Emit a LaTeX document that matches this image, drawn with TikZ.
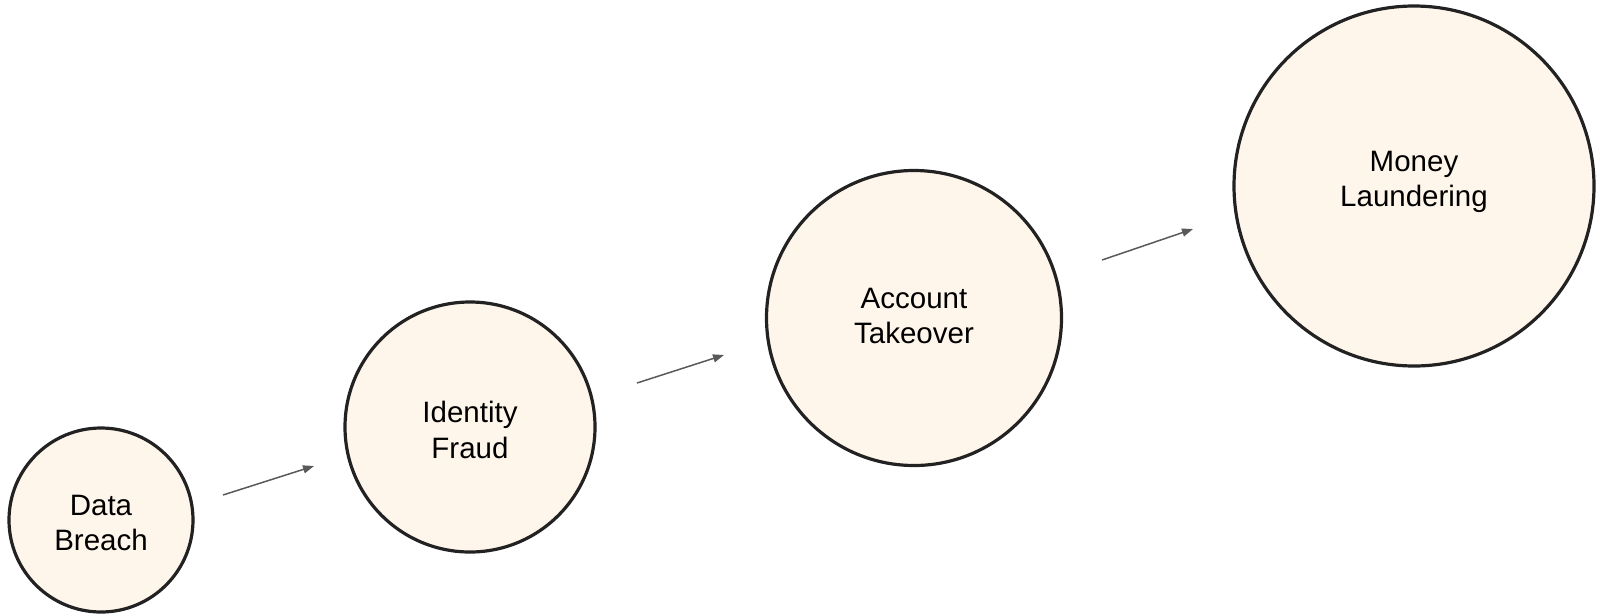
\documentclass[tikz,border=0pt]{standalone}
\usepackage{fontspec}
\setmainfont{Liberation Sans}
\usetikzlibrary{arrows.meta}
\definecolor{cfill}{HTML}{FFF6EB}
\definecolor{cline}{HTML}{222222}
\definecolor{carrow}{HTML}{595959}
\begin{document}
\begin{tikzpicture}[x=1pt,y=-1pt,
  stage/.style={circle,draw=cline,fill=cfill,line width=3.2pt,inner sep=0pt},
  stagetext/.style={align=center,inner sep=0pt,font=\fontsize{29.5}{35.5}\selectfont},
  flow/.style={draw=carrow,line width=1.5pt,-{Triangle[length=11pt,width=8pt]}}]
\useasboundingbox (0,0) rectangle (1600,614);
\node[stage,minimum size=184pt] (db) at (101,520) {};
\node[stage,minimum size=250pt] (if) at (470,427) {};
\node[stage,minimum size=295pt] (at) at (914,318) {};
\node[stage,minimum size=360pt] (ml) at (1414,186) {};
\node[stagetext] (dbt) at ([yshift=-3pt]db.center) {Data\\Breach};
\node[stagetext] (ift) at ([yshift=-3pt]if.center) {Identity\\Fraud};
\node[stagetext] (att) at ([yshift=2pt]at.center) {Account\\Takeover};
\node[stagetext] (mlt) at ([yshift=4pt]ml.center) {Money\\Laundering};
\coordinate (a1s) at (223,495); \coordinate (a1e) at (314,466);
\coordinate (a2s) at (637,383); \coordinate (a2e) at (724,355);
\coordinate (a3s) at (1102,260); \coordinate (a3e) at (1193,229);
\draw[flow] (a1s) -- (a1e);
\draw[flow] (a2s) -- (a2e);
\draw[flow] (a3s) -- (a3e);
\end{tikzpicture}
\end{document}
